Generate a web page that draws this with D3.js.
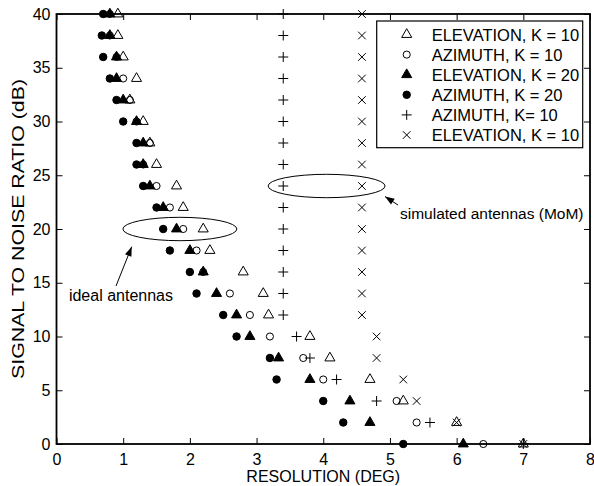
<!DOCTYPE html>
<html><head><meta charset="utf-8">
<script src="https://cdn.jsdelivr.net/npm/d3@7/dist/d3.min.js"></script>
<style>body{margin:0;background:#fff}svg{display:block}text{font-family:"Liberation Sans",Arial,Helvetica,sans-serif}</style>
</head><body><svg id="c" width="594" height="486"></svg>
<script>
const snr = [0,2,4,6,8,10,12,14,16,18,20,22,24,26,28,30,32,34,36,38,40];
const elevK10 = [7.0,6.0,5.2,4.7,4.1,3.8,3.18,3.1,2.8,2.3,2.2,1.9,1.8,1.5,1.4,1.3,1.1,1.2,1.0,0.92,0.92];
const aziK10  = [6.4,5.4,5.1,4.0,3.7,3.2,2.9,2.6,2.2,2.1,1.9,1.7,1.5,1.3,1.4,1.2,1.1,1.0,0.9,0.8,0.8];
const elevK20 = [6.1,4.7,4.4,3.8,3.33,2.9,2.7,2.4,2.2,2.0,1.8,1.6,1.4,1.3,1.3,1.2,1.0,0.9,0.9,0.8,0.8];
const aziK20  = [5.2,4.3,4.0,3.3,3.2,2.7,2.5,2.1,2.0,1.7,1.6,1.5,1.3,1.2,1.2,1.0,0.9,0.8,0.7,0.68,0.7];
const momAzi  = [7.0,5.6,4.8,4.2,3.8,3.6,3.4,3.4,3.4,3.4,3.4,3.4,3.4,3.4,3.4,3.4,3.4,3.4,3.4,3.4,3.4];
const momElev = [7.0,6.0,5.4,5.2,4.8,4.8,4.58,4.58,4.58,4.58,4.58,4.58,4.58,4.58,4.58,4.58,4.58,4.58,4.58,4.58,4.58];
const xTicks = [0,1,2,3,4,5,6,7,8];
const yTicks = [0,5,10,15,20,25,30,35,40];
const legendLabels = ["ELEVATION, K = 10","AZIMUTH, K = 10","ELEVATION, K = 20","AZIMUTH, K = 20","AZIMUTH, K= 10","ELEVATION, K = 10"];

const svg = d3.select("#c");
const L=56.5,R=590,T=14,B=444;
const x = d3.scaleLinear().domain([0,8]).range([L,R]);
const y = d3.scaleLinear().domain([0,40]).range([B,T]);
const F = "16px";

// axes
const ax = svg.append("g").attr("transform",`translate(0,${B})`)
  .call(d3.axisBottom(x).tickValues(xTicks).tickSize(-6).tickPadding(10).tickFormat(d3.format("d")));
const ay = svg.append("g").attr("transform",`translate(${L},0)`)
  .call(d3.axisLeft(y).tickValues(yTicks).tickSize(-6).tickPadding(6).tickFormat(d3.format("d")));
const axT = svg.append("g").attr("transform",`translate(0,${T})`)
  .call(d3.axisTop(x).tickValues(xTicks).tickSize(-6).tickFormat(""));
const ayR = svg.append("g").attr("transform",`translate(${R},0)`)
  .call(d3.axisRight(y).tickValues(yTicks).tickSize(-6).tickFormat(""));
[ax,ay,axT,ayR].forEach(g=>{
  g.select(".domain").remove();
  g.selectAll("line").attr("stroke","#000").attr("stroke-width",1);
  g.selectAll("text").attr("font-size",F).attr("fill","#000").style("font-family",'"Liberation Sans",Arial,sans-serif');
});
svg.append("rect").attr("x",L).attr("y",T).attr("width",R-L).attr("height",B-T)
  .attr("fill","none").attr("stroke","#000").attr("stroke-width",1.8);

svg.append("text").attr("x",(L+R)/2).attr("y",482).attr("text-anchor","middle").attr("font-size",F).text("RESOLUTION (DEG)");
svg.append("text").attr("transform",`translate(24,${(T+B)/2}) rotate(-90)`).attr("text-anchor","middle")
  .attr("font-size","16.5px").attr("textLength",300).attr("lengthAdjust","spacingAndGlyphs").text("SIGNAL TO NOISE RATIO (dB)");

// markers
const sym = {
  triOpen:  {type:d3.symbolTriangle, size:44, fill:"none", stroke:"#000"},
  circOpen: {type:d3.symbolCircle, size:40, fill:"none", stroke:"#000"},
  triFill:  {type:d3.symbolTriangle, size:44, fill:"#000", stroke:"#000"},
  circFill: {type:d3.symbolCircle, size:44, fill:"#000", stroke:"#000"},
};
function drawSym(g, key, px, py){
  const s=sym[key];
  g.append("path").attr("d",d3.symbol().type(s.type).size(s.size)())
   .attr("transform",`translate(${px},${py})`).attr("fill",s.fill).attr("stroke",s.stroke).attr("stroke-width",1);
}
function drawPlus(g,px,py,h){g.append("path").attr("d",`M${px-h},${py}H${px+h}M${px},${py-h}V${py+h}`).attr("stroke","#000").attr("stroke-width",1).attr("fill","none");}
function drawX(g,px,py,h){g.append("path").attr("d",`M${px-h},${py-h}L${px+h},${py+h}M${px-h},${py+h}L${px+h},${py-h}`).attr("stroke","#000").attr("stroke-width",1).attr("fill","none");}

const gm = svg.append("g");
snr.forEach((s,i)=>drawSym(gm,"triOpen",x(elevK10[i]),y(s)));
snr.forEach((s,i)=>drawSym(gm,"circOpen",x(aziK10[i]),y(s)));
snr.forEach((s,i)=>drawSym(gm,"triFill",x(elevK20[i]),y(s)));
snr.forEach((s,i)=>drawSym(gm,"circFill",x(aziK20[i]),y(s)));
snr.forEach((s,i)=>drawPlus(gm,x(momAzi[i]),y(s),5));
snr.forEach((s,i)=>drawX(gm,x(momElev[i]),y(s),3.8));

// annotations
svg.append("ellipse").attr("cx",x(1.85)).attr("cy",y(20)).attr("rx",57).attr("ry",11.7).attr("fill","none").attr("stroke","#000").attr("stroke-width",1);
svg.append("ellipse").attr("cx",x(4.05)).attr("cy",y(24)).attr("rx",58.5).attr("ry",11.7).attr("fill","none").attr("stroke","#000").attr("stroke-width",1);
function arrow(x1,y1,x2,y2){
  svg.append("line").attr("x1",x1).attr("y1",y1).attr("x2",x2).attr("y2",y2).attr("stroke","#000").attr("stroke-width",1);
  const a=Math.atan2(y2-y1,x2-x1), l=10, w=0.35;
  const p=[[x2,y2],[x2-l*Math.cos(a-w),y2-l*Math.sin(a-w)],[x2-l*Math.cos(a+w),y2-l*Math.sin(a+w)]];
  svg.append("path").attr("d","M"+p.join("L")+"Z").attr("fill","#000");
}
arrow(116,286,131.7,246.7);
arrow(398,205,385,196.5);
svg.append("text").attr("x",173).attr("y",301).attr("text-anchor","end").attr("font-size","16px").text("ideal antennas");
svg.append("text").attr("x",400).attr("y",219).attr("font-size","15.5px").text("simulated antennas (MoM)");

// legend
svg.append("rect").attr("x",376.7).attr("y",21).attr("width",206).attr("height",126.7).attr("fill","#fff").attr("stroke","#000").attr("stroke-width",1.2);
const lk=["triOpen","circOpen","triFill","circFill","plus","x"];
lk.forEach((k,i)=>{
  const cy=34.5+i*20.1, cx=406.7;
  if(k==="plus") drawPlus(svg,cx,cy,5); else if(k==="x") drawX(svg,cx,cy,3.8); else drawSym(svg,k,cx,cy);
  svg.append("text").attr("x",431.7).attr("y",cy+6).attr("font-size","16.5px").text(legendLabels[i]);
});
</script></body></html>
